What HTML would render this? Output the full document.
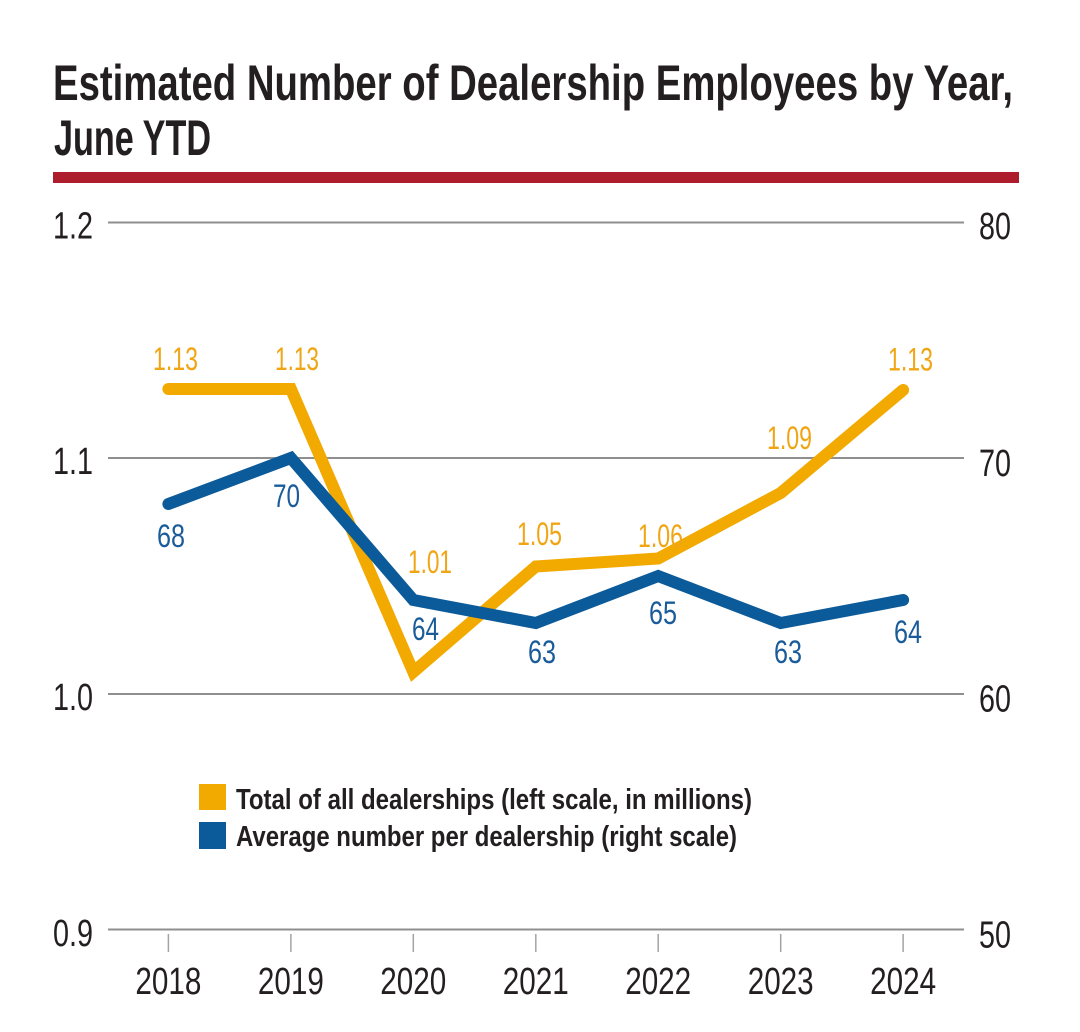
<!DOCTYPE html>
<html>
<head>
<meta charset="utf-8">
<style>
  html, body { margin: 0; padding: 0; background: #ffffff; }
  body { width: 1080px; height: 1032px; overflow: hidden; }
  svg { display: block; }
  .t { font-family: "Liberation Sans Narrow", "Liberation Sans", Arial, sans-serif; }
</style>
</head>
<body>
<svg width="1080" height="1032" viewBox="0 0 1080 1032" xmlns="http://www.w3.org/2000/svg">
  <rect x="0" y="0" width="1080" height="1032" fill="#ffffff"/>

  <!-- Title -->
  <text class="t" x="53" y="100" font-size="50" font-weight="bold" fill="#231f20" textLength="960" lengthAdjust="spacingAndGlyphs">Estimated Number of Dealership Employees by Year,</text>
  <text class="t" x="54" y="155" font-size="50" font-weight="bold" fill="#231f20" textLength="157" lengthAdjust="spacingAndGlyphs">June YTD</text>

  <!-- Red rule -->
  <rect x="53" y="172" width="966" height="11" fill="#ae1d2c"/>

  <!-- Gridlines -->
  <g stroke="#8f8f8f" stroke-width="2">
    <line x1="108" y1="222.5" x2="964" y2="222.5"/>
    <line x1="108" y1="458" x2="964" y2="458"/>
    <line x1="108" y1="694" x2="964" y2="694"/>
    <line x1="108" y1="929.5" x2="964" y2="929.5"/>
  </g>

  <!-- Ticks -->
  <g stroke="#a3a3a3" stroke-width="1.5">
    <line x1="168.4" y1="934" x2="168.4" y2="952"/>
    <line x1="290.9" y1="934" x2="290.9" y2="952"/>
    <line x1="413.3" y1="934" x2="413.3" y2="952"/>
    <line x1="535.8" y1="934" x2="535.8" y2="952"/>
    <line x1="658.2" y1="934" x2="658.2" y2="952"/>
    <line x1="780.7" y1="934" x2="780.7" y2="952"/>
    <line x1="903.1" y1="934" x2="903.1" y2="952"/>
  </g>

  <!-- Left axis labels -->
  <g class="t" font-size="38" fill="#231f20">
    <text x="53" y="238.5" textLength="40" lengthAdjust="spacingAndGlyphs">1.2</text>
    <text x="53" y="474" textLength="40" lengthAdjust="spacingAndGlyphs">1.1</text>
    <text x="53" y="710" textLength="40" lengthAdjust="spacingAndGlyphs">1.0</text>
    <text x="53" y="946" textLength="40" lengthAdjust="spacingAndGlyphs">0.9</text>
  </g>

  <!-- Right axis labels -->
  <g class="t" font-size="38" fill="#231f20">
    <text x="979" y="239" textLength="32" lengthAdjust="spacingAndGlyphs">80</text>
    <text x="979" y="476" textLength="32" lengthAdjust="spacingAndGlyphs">70</text>
    <text x="979" y="711.5" textLength="32" lengthAdjust="spacingAndGlyphs">60</text>
    <text x="979" y="947.5" textLength="32" lengthAdjust="spacingAndGlyphs">50</text>
  </g>

  <!-- X axis labels -->
  <g class="t" font-size="38" fill="#231f20" text-anchor="middle">
    <text x="168.4" y="994" textLength="66" lengthAdjust="spacingAndGlyphs">2018</text>
    <text x="290.9" y="994" textLength="66" lengthAdjust="spacingAndGlyphs">2019</text>
    <text x="413.3" y="994" textLength="66" lengthAdjust="spacingAndGlyphs">2020</text>
    <text x="535.8" y="994" textLength="66" lengthAdjust="spacingAndGlyphs">2021</text>
    <text x="658.2" y="994" textLength="66" lengthAdjust="spacingAndGlyphs">2022</text>
    <text x="780.7" y="994" textLength="66" lengthAdjust="spacingAndGlyphs">2023</text>
    <text x="903.1" y="994" textLength="66" lengthAdjust="spacingAndGlyphs">2024</text>
  </g>

  <!-- Orange series (total, left scale) -->
  <polyline fill="none" stroke="#f2a900" stroke-width="12" stroke-linecap="round" stroke-linejoin="miter" stroke-miterlimit="10"
    points="168.4,389 290.9,389 413.3,672 535.8,566.5 658.2,558.5 780.7,493 903.1,390"/>

  <!-- Blue series (average, right scale) -->
  <polyline fill="none" stroke="#0b5a99" stroke-width="12" stroke-linecap="round" stroke-linejoin="miter" stroke-miterlimit="10"
    points="168.4,504 290.9,458 413.3,600 535.8,623 658.2,576 780.7,623 903.1,600"/>

  <!-- Orange data labels -->
  <g class="t" font-size="32" fill="#f0a614">
    <text x="153" y="370" textLength="45" lengthAdjust="spacingAndGlyphs">1.13</text>
    <text x="275" y="370" textLength="44" lengthAdjust="spacingAndGlyphs">1.13</text>
    <text x="408" y="573" textLength="44" lengthAdjust="spacingAndGlyphs">1.01</text>
    <text x="517" y="545" textLength="45" lengthAdjust="spacingAndGlyphs">1.05</text>
    <text x="638" y="547" textLength="45" lengthAdjust="spacingAndGlyphs">1.06</text>
    <text x="767" y="449" textLength="45" lengthAdjust="spacingAndGlyphs">1.09</text>
    <text x="888" y="370.5" textLength="45" lengthAdjust="spacingAndGlyphs">1.13</text>
  </g>

  <!-- Blue data labels -->
  <g class="t" font-size="32" fill="#1a5c9a">
    <text x="157" y="547" textLength="28" lengthAdjust="spacingAndGlyphs">68</text>
    <text x="273" y="507" textLength="27" lengthAdjust="spacingAndGlyphs">70</text>
    <text x="412" y="640" textLength="27" lengthAdjust="spacingAndGlyphs">64</text>
    <text x="528" y="663" textLength="28" lengthAdjust="spacingAndGlyphs">63</text>
    <text x="649" y="624" textLength="28" lengthAdjust="spacingAndGlyphs">65</text>
    <text x="774" y="663" textLength="28" lengthAdjust="spacingAndGlyphs">63</text>
    <text x="894" y="643" textLength="28" lengthAdjust="spacingAndGlyphs">64</text>
  </g>

  <!-- Legend -->
  <rect x="199" y="784" width="27" height="26" fill="#f2a900"/>
  <rect x="199" y="822" width="27" height="27" fill="#0b5a99"/>
  <text class="t" x="236" y="809" font-size="29" font-weight="bold" fill="#231f20" textLength="516" lengthAdjust="spacingAndGlyphs">Total of all dealerships (left scale, in millions)</text>
  <text class="t" x="236" y="846" font-size="29" font-weight="bold" fill="#231f20" textLength="501" lengthAdjust="spacingAndGlyphs">Average number per dealership (right scale)</text>
</svg>
</body>
</html>
